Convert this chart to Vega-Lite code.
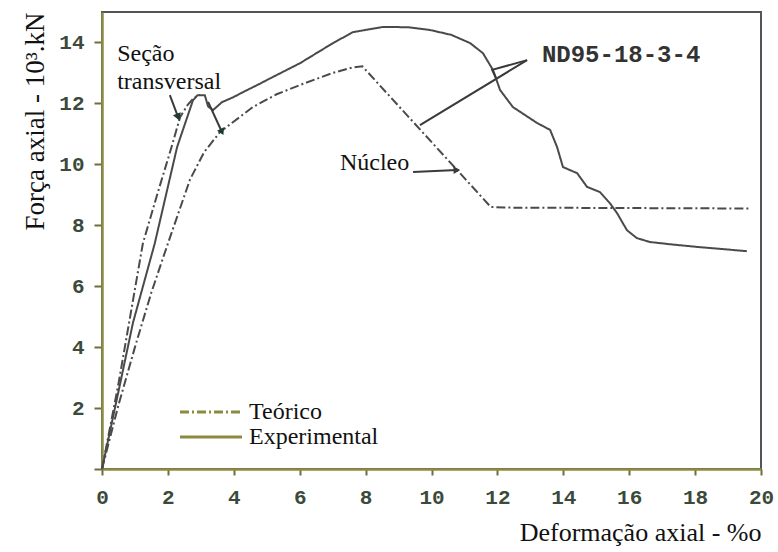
{
  "$schema": "https://vega.github.io/schema/vega-lite/v6.json",
  "width": 659,
  "height": 457,
  "autosize": {"type": "none"},
  "padding": {"left": 102, "top": 12, "right": 17, "bottom": 83},
  "background": "white",
  "config": {"view": {"stroke": "#555555", "strokeWidth": 2}, "axis": {"grid": false}},
  "datasets": {
    "curves": [
      {"curva": "Seção transversal", "tipo": "Teórico", "x": 0, "y": 0},
      {"curva": "Seção transversal", "tipo": "Teórico", "x": 0.5, "y": 2.8},
      {"curva": "Seção transversal", "tipo": "Teórico", "x": 1.24, "y": 7.4},
      {"curva": "Seção transversal", "tipo": "Teórico", "x": 1.7, "y": 9.1},
      {"curva": "Seção transversal", "tipo": "Teórico", "x": 2.12, "y": 10.6},
      {"curva": "Seção transversal", "tipo": "Teórico", "x": 2.37, "y": 11.55},
      {"curva": "Seção transversal", "tipo": "Teórico", "x": 2.6, "y": 11.95},
      {"curva": "Seção transversal", "tipo": "Teórico", "x": 2.8, "y": 12.2},
      {"curva": "Seção transversal", "tipo": "Teórico", "x": 2.98, "y": 12.28},
      {"curva": "Núcleo", "tipo": "Teórico", "x": 0, "y": 0},
      {"curva": "Núcleo", "tipo": "Teórico", "x": 0.5, "y": 2.1},
      {"curva": "Núcleo", "tipo": "Teórico", "x": 1.0, "y": 4.0},
      {"curva": "Núcleo", "tipo": "Teórico", "x": 1.5, "y": 5.8},
      {"curva": "Núcleo", "tipo": "Teórico", "x": 2.0, "y": 7.4},
      {"curva": "Núcleo", "tipo": "Teórico", "x": 2.67, "y": 9.5},
      {"curva": "Núcleo", "tipo": "Teórico", "x": 3.1, "y": 10.4},
      {"curva": "Núcleo", "tipo": "Teórico", "x": 3.58, "y": 11.06},
      {"curva": "Núcleo", "tipo": "Teórico", "x": 4.58, "y": 11.88},
      {"curva": "Núcleo", "tipo": "Teórico", "x": 5.3, "y": 12.3},
      {"curva": "Núcleo", "tipo": "Teórico", "x": 6.0, "y": 12.6},
      {"curva": "Núcleo", "tipo": "Teórico", "x": 7.0, "y": 13.0},
      {"curva": "Núcleo", "tipo": "Teórico", "x": 7.6, "y": 13.18},
      {"curva": "Núcleo", "tipo": "Teórico", "x": 7.9, "y": 13.22},
      {"curva": "Núcleo", "tipo": "Teórico", "x": 11.8, "y": 8.6},
      {"curva": "Núcleo", "tipo": "Teórico", "x": 12.2, "y": 8.58},
      {"curva": "Núcleo", "tipo": "Teórico", "x": 19.7, "y": 8.55},
      {"curva": "Experimental", "tipo": "Experimental", "x": 0, "y": 0},
      {"curva": "Experimental", "tipo": "Experimental", "x": 0.55, "y": 2.8},
      {"curva": "Experimental", "tipo": "Experimental", "x": 0.94, "y": 4.8},
      {"curva": "Experimental", "tipo": "Experimental", "x": 1.6, "y": 7.4},
      {"curva": "Experimental", "tipo": "Experimental", "x": 2.28, "y": 10.57},
      {"curva": "Experimental", "tipo": "Experimental", "x": 2.76, "y": 12.1},
      {"curva": "Experimental", "tipo": "Experimental", "x": 2.9, "y": 12.27},
      {"curva": "Experimental", "tipo": "Experimental", "x": 3.12, "y": 12.27},
      {"curva": "Experimental", "tipo": "Experimental", "x": 3.22, "y": 11.9},
      {"curva": "Experimental", "tipo": "Experimental", "x": 3.37, "y": 11.78},
      {"curva": "Experimental", "tipo": "Experimental", "x": 3.64, "y": 12.04},
      {"curva": "Experimental", "tipo": "Experimental", "x": 3.98, "y": 12.2},
      {"curva": "Experimental", "tipo": "Experimental", "x": 4.28, "y": 12.37},
      {"curva": "Experimental", "tipo": "Experimental", "x": 4.8, "y": 12.65},
      {"curva": "Experimental", "tipo": "Experimental", "x": 5.01, "y": 12.77},
      {"curva": "Experimental", "tipo": "Experimental", "x": 6.01, "y": 13.32},
      {"curva": "Experimental", "tipo": "Experimental", "x": 7.01, "y": 13.98},
      {"curva": "Experimental", "tipo": "Experimental", "x": 7.62, "y": 14.34},
      {"curva": "Experimental", "tipo": "Experimental", "x": 8.53, "y": 14.51},
      {"curva": "Experimental", "tipo": "Experimental", "x": 9.3, "y": 14.5},
      {"curva": "Experimental", "tipo": "Experimental", "x": 9.95, "y": 14.41},
      {"curva": "Experimental", "tipo": "Experimental", "x": 10.6, "y": 14.25},
      {"curva": "Experimental", "tipo": "Experimental", "x": 11.17, "y": 13.98},
      {"curva": "Experimental", "tipo": "Experimental", "x": 11.56, "y": 13.65},
      {"curva": "Experimental", "tipo": "Experimental", "x": 11.87, "y": 13.09},
      {"curva": "Experimental", "tipo": "Experimental", "x": 12.08, "y": 12.44},
      {"curva": "Experimental", "tipo": "Experimental", "x": 12.47, "y": 11.88},
      {"curva": "Experimental", "tipo": "Experimental", "x": 13.2, "y": 11.36},
      {"curva": "Experimental", "tipo": "Experimental", "x": 13.6, "y": 11.13},
      {"curva": "Experimental", "tipo": "Experimental", "x": 13.81, "y": 10.57},
      {"curva": "Experimental", "tipo": "Experimental", "x": 13.99, "y": 9.91},
      {"curva": "Experimental", "tipo": "Experimental", "x": 14.42, "y": 9.71},
      {"curva": "Experimental", "tipo": "Experimental", "x": 14.72, "y": 9.26},
      {"curva": "Experimental", "tipo": "Experimental", "x": 15.11, "y": 9.09},
      {"curva": "Experimental", "tipo": "Experimental", "x": 15.41, "y": 8.73},
      {"curva": "Experimental", "tipo": "Experimental", "x": 15.63, "y": 8.4},
      {"curva": "Experimental", "tipo": "Experimental", "x": 15.93, "y": 7.84},
      {"curva": "Experimental", "tipo": "Experimental", "x": 16.23, "y": 7.58},
      {"curva": "Experimental", "tipo": "Experimental", "x": 16.63, "y": 7.45},
      {"curva": "Experimental", "tipo": "Experimental", "x": 17.3, "y": 7.37},
      {"curva": "Experimental", "tipo": "Experimental", "x": 18.06, "y": 7.29},
      {"curva": "Experimental", "tipo": "Experimental", "x": 19.57, "y": 7.15}
    ],
    "arrows": [
      {"seg": "s1", "ord": 1, "x": 2.06, "y": 12.27},
      {"seg": "s1", "ord": 2, "x": 2.31, "y": 11.55},
      {"seg": "s2", "ord": 1, "x": 3.22, "y": 12.05},
      {"seg": "s2", "ord": 2, "x": 3.64, "y": 11.06},
      {"seg": "nd1", "ord": 1, "x": 12.9, "y": 13.42},
      {"seg": "nd1", "ord": 2, "x": 9.65, "y": 11.29},
      {"seg": "nd2", "ord": 1, "x": 12.9, "y": 13.42},
      {"seg": "nd2", "ord": 2, "x": 11.84, "y": 13.1},
      {"seg": "nd2", "ord": 3, "x": 11.95, "y": 12.85},
      {"seg": "nu", "ord": 1, "x": 9.44, "y": 9.75},
      {"seg": "nu", "ord": 2, "x": 10.77, "y": 9.81}
    ],
    "notes": [
      {"t": "Seção\ntransversal", "x": 0.46, "y": 13.4, "kind": "serif"},
      {"t": "Núcleo", "x": 7.22, "y": 9.81, "kind": "serif"},
      {"t": "ND95-18-3-4", "x": 13.35, "y": 13.59, "kind": "mono"}
    ]
  },
  "layer": [
    {
      "data": {"name": "curves"},
      "mark": {"type": "line", "strokeWidth": 2, "color": "#4a4a4a"},
      "encoding": {
        "x": {
          "field": "x", "type": "quantitative",
          "scale": {"domain": [0, 20], "nice": false, "zero": false},
          "axis": {
            "values": [0,1,2,3,4,5,6,7,8,9,10,11,12,13,14,15,16,17,18,19,20],
            "labelExpr": "datum.value % 2 == 0 ? datum.label : ''",
            "title": "Deformação axial - %o",
            "titleAnchor": "end",
            "titleFont": "Liberation Serif",
            "titleFontSize": 26,
            "titleFontWeight": "normal",
            "titleColor": "#111111",
            "titlePadding": 12,
            "domainColor": "#8e8b44",
            "domainWidth": 2.5,
            "tickColor": "#6f6d3a",
            "tickSize": 6,
            "tickWidth": 2,
            "labelFont": "Liberation Mono",
            "labelFontWeight": "bold",
            "labelFontSize": 21,
            "labelColor": "#3b4a3b",
            "labelPadding": 11,
            "labelFlush": false,
            "labelOverlap": false
          }
        },
        "y": {
          "field": "y", "type": "quantitative",
          "scale": {"domain": [0, 15], "nice": false, "zero": false},
          "axis": {
            "values": [0,1,2,3,4,5,6,7,8,9,10,11,12,13,14],
            "labelExpr": "datum.value % 2 == 0 && datum.value > 0 ? datum.label : ''",
            "title": "Força axial - 10³.kN",
            "titleAnchor": "end",
            "titleFont": "Liberation Serif",
            "titleFontSize": 27,
            "titleFontWeight": "normal",
            "titleColor": "#111111",
            "titlePadding": 9,
            "domainColor": "#8e8b44",
            "domainWidth": 2.5,
            "tickColor": "#6f6d3a",
            "tickSize": 8,
            "tickWidth": 2,
            "labelFont": "Liberation Mono",
            "labelFontWeight": "bold",
            "labelFontSize": 21,
            "labelColor": "#3b4a3b",
            "labelPadding": 10,
            "labelFlush": false,
            "labelOverlap": false
          }
        },
        "detail": {"field": "curva"},
        "strokeDash": {
          "field": "tipo", "type": "nominal",
          "scale": {"domain": ["Teórico", "Experimental"], "range": [[9, 3, 2, 3], [1, 0]]},
          "legend": {
            "orient": "none",
            "legendX": 97,
            "legendY": 388,
            "title": null,
            "symbolType": "M-4,0H4",
            "symbolSize": 240,
            "symbolStrokeWidth": 3,
            "symbolStrokeColor": "#8c8a3e",
            "labelFont": "Liberation Serif, Times New Roman, serif",
            "labelFontSize": 24,
            "labelFontWeight": "normal",
            "labelColor": "#111111",
            "labelOffset": 26,
            "rowPadding": 1
          }
        }
      }
    },
    {
      "data": {"name": "arrows"},
      "mark": {"type": "line", "strokeWidth": 2, "color": "#3a3a3a"},
      "encoding": {
        "x": {"field": "x", "type": "quantitative"},
        "y": {"field": "y", "type": "quantitative"},
        "detail": {"field": "seg"},
        "order": {"field": "ord"}
      }
    },
    {
      "data": {"name": "arrows"},
      "transform": [{"filter": "datum.seg == 's1' && datum.ord == 2"}],
      "mark": {"type": "point", "shape": "triangle-right", "filled": true, "size": 70, "angle": 70, "color": "#1f3a30", "opacity": 1},
      "encoding": {"x": {"field": "x", "type": "quantitative"}, "y": {"field": "y", "type": "quantitative"}}
    },
    {
      "data": {"name": "arrows"},
      "transform": [{"filter": "datum.seg == 's2' && datum.ord == 2"}],
      "mark": {"type": "point", "shape": "triangle-right", "filled": true, "size": 60, "angle": 64, "color": "#1f3a30", "opacity": 1},
      "encoding": {"x": {"field": "x", "type": "quantitative"}, "y": {"field": "y", "type": "quantitative"}}
    },
    {
      "data": {"name": "arrows"},
      "transform": [{"filter": "datum.seg == 'nu' && datum.ord == 2"}],
      "mark": {"type": "point", "shape": "triangle-right", "filled": true, "size": 60, "angle": -2, "color": "#3a3a3a", "opacity": 1},
      "encoding": {"x": {"field": "x", "type": "quantitative"}, "y": {"field": "y", "type": "quantitative"}}
    },
    {
      "data": {"name": "notes"},
      "transform": [{"filter": "datum.kind == 'serif'"}],
      "mark": {"type": "text", "font": "Liberation Serif, Times New Roman, serif", "fontWeight": "normal", "fontSize": 24, "lineBreak": "\n", "lineHeight": 28, "align": "left", "baseline": "alphabetic", "color": "#111111"},
      "encoding": {"x": {"field": "x", "type": "quantitative"}, "y": {"field": "y", "type": "quantitative"}, "text": {"field": "t"}}
    },
    {
      "data": {"name": "notes"},
      "transform": [{"filter": "datum.kind == 'mono'"}],
      "mark": {"type": "text", "font": "Liberation Mono", "fontWeight": "bold", "fontSize": 24, "align": "left", "baseline": "middle", "color": "#333333"},
      "encoding": {"x": {"field": "x", "type": "quantitative"}, "y": {"field": "y", "type": "quantitative"}, "text": {"field": "t"}}
    }
  ]
}
